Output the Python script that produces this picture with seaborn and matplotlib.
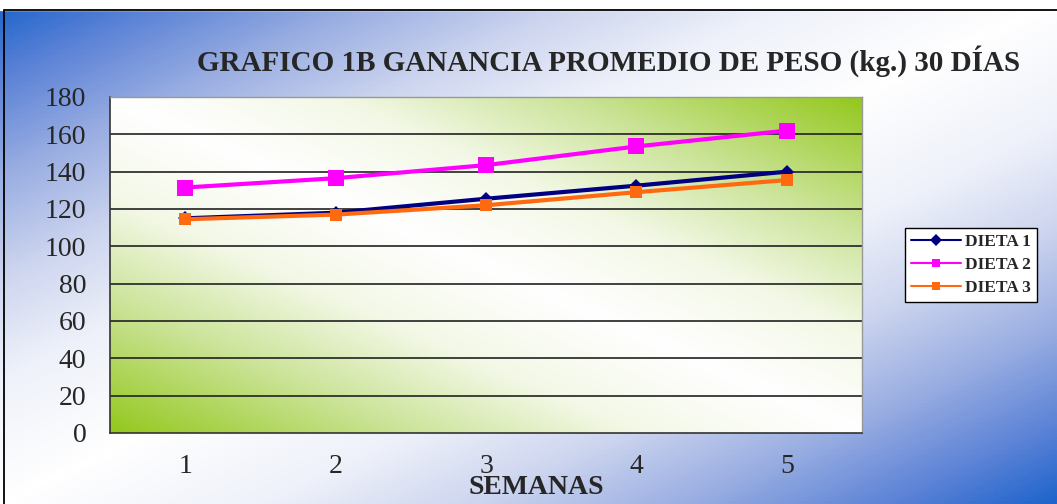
import numpy as np
import pandas as pd
import seaborn as sns
import matplotlib.pyplot as plt
from matplotlib.colors import LinearSegmentedColormap
from matplotlib.patches import Rectangle

semanas = [1, 2, 3, 4, 5]
dieta_1 = [115, 118, 125.5, 132.5, 140]
dieta_2 = [131.5, 136.5, 143.5, 153.5, 162]
dieta_3 = [114.5, 117, 122, 129, 135.5]
series = ['DIETA 1', 'DIETA 2', 'DIETA 3']

df = pd.DataFrame({
    'semana': semanas * 3,
    'peso': dieta_1 + dieta_2 + dieta_3,
    'dieta': [s for s in series for _ in semanas],
})

sns.set_style('white')
plt.rcParams['font.family'] = ['Liberation Serif', 'DejaVu Serif']

W, H = 1057, 504
fig = plt.figure(figsize=(W / 100, H / 100), dpi=100)

# fondo de la figura: azul - blanco - azul en diagonal
bg = fig.add_axes([0, 0, 1, 1], zorder=-10)
gx, gy = np.meshgrid(np.linspace(0, 1, 300), np.linspace(0, 1, 150))
s = np.abs((gx + gy) - 1.0)
blue = LinearSegmentedColormap.from_list(
    'b', [(0, '#ffffff'), (0.25, '#eef1fa'), (0.45, '#cdd5ef'),
          (0.65, '#9aaee2'), (0.85, '#5a82d6'), (1, '#1e64cc')])
bg.imshow(s, cmap=blue, extent=[0, 1, 0, 1], aspect='auto', origin='upper', vmin=0, vmax=1)
bg.add_patch(Rectangle((0, 1 - 10 / H), 1, 0.03, color='white', transform=bg.transAxes))
bg.add_patch(Rectangle((4 / W, -0.01), 1.1, 1 - 10 / H + 0.01, fill=False, lw=1.3,
                       ec='black', transform=bg.transAxes))
bg.set_xlim(0, 1)
bg.set_ylim(0, 1)
bg.set_axis_off()

ax = fig.add_axes([110 / W, 1 - 433 / H, 752 / W, 336 / H])
ax.patch.set_alpha(0)

# fondo del área de trazado: verde - blanco - verde
px, py = np.meshgrid(np.linspace(0, 1, 300), np.linspace(0, 1, 150))
t = np.abs((px + py) - 1.0)
green = LinearSegmentedColormap.from_list(
    'g', [(0, '#ffffff'), (0.3, '#f3f8e6'), (0.6, '#cce49a'), (1, '#94c81e')])
ax.imshow(t, cmap=green, extent=[0.5, 5.5, 0, 180], aspect='auto', origin='lower',
          vmin=0, vmax=1, zorder=0)

palette = {'DIETA 1': '#000080', 'DIETA 2': '#ff00ff', 'DIETA 3': '#ff6a10'}
markers = {'DIETA 1': 'D', 'DIETA 2': 's', 'DIETA 3': 's'}
sizes = {'DIETA 1': 7, 'DIETA 2': 12, 'DIETA 3': 8}
for name in series:
    sub = df[df['dieta'] == name]
    sns.lineplot(data=sub, x='semana', y='peso', ax=ax, color=palette[name],
                 marker=markers[name], markersize=sizes[name], markeredgewidth=0,
                 linewidth=3, label=name, zorder=5)

ax.set_xlim(0.5, 5.5)
ax.set_ylim(0, 180)
ax.set_yticks(range(0, 181, 20))
ax.set_xticks(semanas)
ax.set_xticks([0.5, 1.5, 2.5, 3.5, 4.5, 5.5], minor=True)
ax.tick_params(axis='x', which='major', length=0, pad=15, labelsize=20)
ax.tick_params(axis='x', which='minor', length=7, width=1, color='#444444', direction='out')
ax.tick_params(axis='y', length=7, width=1, color='#444444', direction='out', labelsize=20, pad=10)
for y in range(20, 181, 20):
    ax.axhline(y, color='#222222', lw=1.2, zorder=2)
for side in ['left', 'bottom']:
    ax.spines[side].set_color('#333333')
    ax.spines[side].set_linewidth(1.2)
for side in ['top', 'right']:
    ax.spines[side].set_color('#999999')
    ax.spines[side].set_linewidth(1.0)

ax.set_xlabel('')
ax.set_ylabel('')
fig.text(536 / W, 1 - 488 / H, 'SEMANAS', ha='center', va='center',
         fontsize=20, fontweight='bold')

fig.text(609 / W, 1 - 61 / H, 'GRAFICO 1B GANANCIA PROMEDIO DE PESO (kg.) 30 DÍAS',
         ha='center', va='center', fontsize=21, fontweight='bold')

leg = ax.legend(loc='center left', bbox_to_anchor=(795 / 752, 0.5), frameon=True,
                fancybox=False, edgecolor='black', framealpha=1, handlelength=2.9,
                borderpad=0.35, labelspacing=0.4, handletextpad=0.2, borderaxespad=0,
                prop={'weight': 'bold', 'size': 12.5})
leg.get_frame().set_linewidth(1.0)
for h in leg.legend_handles:
    h.set_linewidth(1.5)
    h.set_markersize(6)

fig.savefig('out.png', dpi=100)
